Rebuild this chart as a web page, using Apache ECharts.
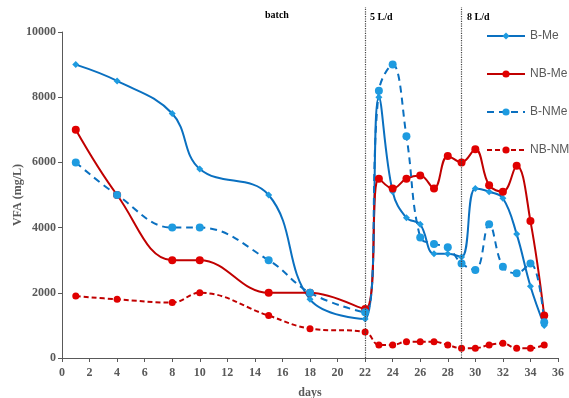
<!DOCTYPE html>
<html><head><meta charset="utf-8">
<script src="https://cdn.jsdelivr.net/npm/echarts@6/dist/echarts.min.js"></script>
<style>html,body{margin:0;padding:0;background:#fff}#c{width:569px;height:398px}</style>
</head><body><div id="c"></div>
<script>
const days = [1,4,8,10,15,18,22,23,24,25,26,27,28,29,30,31,32,33,34,35];
const bMe   = [9000,8500,7500,5800,5000,1800,1200,8000,5100,4300,4100,3200,3200,3100,5200,5100,4900,3800,2200,1000];
const nbMe  = [7000,5000,3000,3000,2000,2000,1500,5500,5200,5500,5600,5200,6200,6000,6400,5300,5100,5900,4200,1300];
const bNMe  = [6000,5000,4000,4000,3000,2000,1400,8200,9000,6800,3700,3500,3400,2900,2700,4100,2800,2600,2900,1100];
const nbNMe = [1900,1800,1700,2000,1300,900,800,400,400,500,500,500,400,300,300,400,450,300,300,400];
const xTicks = {min:0, max:36, interval:2};
const yTicks = {min:0, max:10000, interval:2000};
const phaseLines = [22, 29];
const phaseLabels = ['batch','5 L/d','8 L/d'];

const pairs = v => days.map((d,i)=>[d,v[i]]);
const serif = '"Liberation Serif","Times New Roman",serif';
const gray = '#595959';
const chart = echarts.init(document.getElementById('c'));
chart.setOption({
  animation:false,
  grid:[{left:62,right:11,top:32,bottom:40,outerBoundsMode:'none',containLabel:false},
        {left:62,right:11,top:7,bottom:40,outerBoundsMode:'none',containLabel:false}],
  legend:{
    orient:'vertical', left:486, top:30, padding:0, itemGap:26, itemWidth:38, itemHeight:9,
    textStyle:{color:gray,fontSize:12,fontFamily:'"Liberation Sans",Arial,sans-serif'},
    data:['B-Me','NB-Me','B-NMe','NB-NMe']
  },
  xAxis:[{type:'value',min:xTicks.min,max:xTicks.max,interval:xTicks.interval,
    name:'days',nameLocation:'middle',nameGap:29,nameMoveOverlap:false,
    nameTextStyle:{color:gray,fontFamily:serif,fontWeight:'bold',fontSize:12},
    axisLine:{lineStyle:{color:gray}},axisTick:{lineStyle:{color:gray},length:4},
    axisLabel:{color:gray,fontFamily:serif,fontWeight:'bold',fontSize:12,margin:9},
    splitLine:{show:false}},
    {type:'value',gridIndex:1,min:xTicks.min,max:xTicks.max,show:false}],
  yAxis:[{type:'value',min:yTicks.min,max:yTicks.max,interval:yTicks.interval,
    name:'VFA (mg/L)',nameLocation:'middle',nameGap:38,nameMoveOverlap:false,
    nameTextStyle:{color:gray,fontFamily:serif,fontWeight:'bold',fontSize:12},
    axisLine:{show:true,lineStyle:{color:gray}},axisTick:{show:true,lineStyle:{color:gray},length:4},
    axisLabel:{color:gray,fontFamily:serif,fontWeight:'bold',fontSize:12,margin:6,formatter:v=>String(v)},
    splitLine:{show:false}},
    {type:'value',gridIndex:1,min:0,max:1,show:false}],
  series:[
    {name:'phase',type:'line',xAxisIndex:1,yAxisIndex:1,data:[],silent:true,
     markLine:{silent:true,symbol:'none',label:{show:false},
       lineStyle:{color:'#444',type:'dotted',width:1.2},
       data:phaseLines.map(x=>({xAxis:x}))}},
    {name:'B-Me',type:'line',data:pairs(bMe),smooth:0.4,symbol:'diamond',symbolSize:7,
     lineStyle:{color:'#0A70C0',width:2},itemStyle:{color:'#1E9BE0'}},
    {name:'NB-Me',type:'line',data:pairs(nbMe),smooth:0.4,symbol:'circle',symbolSize:8,
     lineStyle:{color:'#C00000',width:2},itemStyle:{color:'#E00000'}},
    {name:'B-NMe',type:'line',data:pairs(bNMe),smooth:0.4,symbol:'circle',symbolSize:8,
     lineStyle:{color:'#0A70C0',width:2,type:[7,5]},itemStyle:{color:'#1E9BE0'}},
    {name:'NB-NMe',type:'line',data:pairs(nbNMe),smooth:0.4,symbol:'circle',symbolSize:7,
     lineStyle:{color:'#C00000',width:2,type:[5,3]},itemStyle:{color:'#E00000'}}
  ],
  graphic:[
    {type:'text',left:265,top:10,style:{text:phaseLabels[0],font:'bold 10px '+serif,fill:'#000'}},
    {type:'text',left:370,top:12,style:{text:phaseLabels[1],font:'bold 10px '+serif,fill:'#000'}},
    {type:'text',left:467,top:12,style:{text:phaseLabels[2],font:'bold 10px '+serif,fill:'#000'}}
  ]
});
</script></body></html>
